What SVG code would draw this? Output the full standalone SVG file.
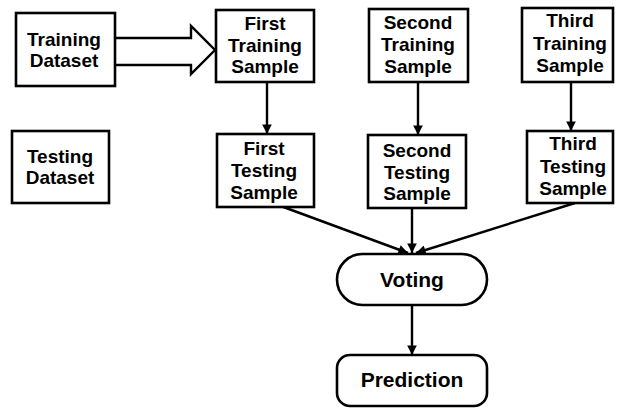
<svg xmlns="http://www.w3.org/2000/svg" width="617" height="409" viewBox="0 0 617 409">
  <style>
    .box { fill: #fff; stroke: #000; stroke-width: 2.6; }
    .lbl { font-family: "Liberation Sans", Arial, sans-serif; font-weight: bold; font-size: 19px; fill: #000; text-anchor: middle; }
    .big { font-size: 21px; }
    .edge { fill: none; stroke: #000; stroke-width: 2.4; marker-end: url(#head); }
  </style>
  <defs>
    <marker id="head" viewBox="0 0 10 10" refX="10" refY="5" markerWidth="4.3" markerHeight="4" orient="auto" markerUnits="strokeWidth">
      <path d="M0,0 L10,5 L0,10 z" fill="#000"/>
    </marker>
  </defs>
  <rect width="617" height="409" fill="#fff"/>

  <g id="connectors">
    <!-- block arrow from the training dataset -->
    <path d="M115,38 H191 V26 L215,50 L191,74 V65 H115" fill="#fff" stroke="#000" stroke-width="2.4" stroke-linejoin="miter"/>
    <line class="edge" x1="267" y1="82" x2="267" y2="134"/>
    <line class="edge" x1="418" y1="82" x2="418" y2="135"/>
    <line class="edge" x1="571" y1="82" x2="571" y2="131"/>
    <line class="edge" x1="278" y1="205" x2="408" y2="253"/>
    <line class="edge" x1="412" y1="207" x2="412" y2="253"/>
    <line class="edge" x1="575" y1="203" x2="416" y2="253"/>
    <line class="edge" x1="412" y1="305" x2="412" y2="355"/>
  </g>

  <g id="training-dataset">
    <rect class="box" x="16" y="13" width="99" height="73"/>
    <text class="lbl" x="64" y="46">Training</text>
    <text class="lbl" x="64" y="67">Dataset</text>
  </g>
  <g id="testing-dataset">
    <rect class="box" x="12" y="131" width="97" height="72"/>
    <text class="lbl" x="60" y="163">Testing</text>
    <text class="lbl" x="60" y="184">Dataset</text>
  </g>

  <g id="first-training">
    <rect class="box" x="216" y="10" width="98" height="72"/>
    <text class="lbl" x="265" y="30">First</text>
    <text class="lbl" x="265" y="52">Training</text>
    <text class="lbl" x="265" y="73">Sample</text>
  </g>
  <g id="second-training">
    <rect class="box" x="369" y="9" width="99" height="73"/>
    <text class="lbl" x="418" y="29">Second</text>
    <text class="lbl" x="418" y="51">Training</text>
    <text class="lbl" x="418" y="73">Sample</text>
  </g>
  <g id="third-training">
    <rect class="box" x="522" y="8" width="91" height="74"/>
    <text class="lbl" x="570" y="27">Third</text>
    <text class="lbl" x="570" y="50">Training</text>
    <text class="lbl" x="570" y="72">Sample</text>
  </g>

  <g id="first-testing">
    <rect class="box" x="217" y="134" width="97" height="73"/>
    <text class="lbl" x="264" y="155">First</text>
    <text class="lbl" x="264" y="177">Testing</text>
    <text class="lbl" x="264" y="199">Sample</text>
  </g>
  <g id="second-testing">
    <rect class="box" x="368" y="135" width="98" height="73"/>
    <text class="lbl" x="417" y="157">Second</text>
    <text class="lbl" x="417" y="179">Testing</text>
    <text class="lbl" x="417" y="200">Sample</text>
  </g>
  <g id="third-testing">
    <rect class="box" x="527" y="131" width="86" height="72"/>
    <text class="lbl" x="573" y="150">Third</text>
    <text class="lbl" x="573" y="173">Testing</text>
    <text class="lbl" x="573" y="195">Sample</text>
  </g>

  <g id="voting">
    <rect class="box" x="337" y="254" width="150" height="51" rx="25.5"/>
    <text class="lbl big" x="412" y="287">Voting</text>
  </g>
  <g id="prediction">
    <rect class="box" x="337" y="355" width="150" height="51" rx="13"/>
    <text class="lbl big" x="412" y="387">Prediction</text>
  </g>
</svg>
